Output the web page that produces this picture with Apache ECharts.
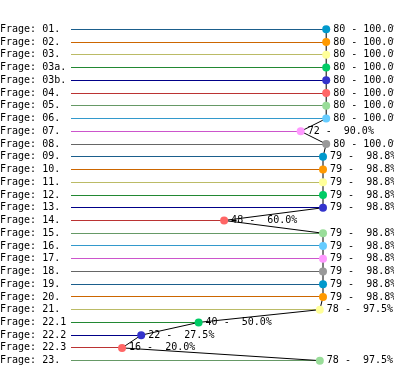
<!DOCTYPE html>
<html><head><meta charset="utf-8">
<script src="https://cdn.jsdelivr.net/npm/echarts@6/dist/echarts.min.js"></script>
<style>html,body{margin:0;padding:0;background:#fff}#c{width:394px;height:373px}</style>
</head><body><div id="c"></div>
<script>
const categories = ['Frage: 01.','Frage: 02.','Frage: 03.','Frage: 03a.','Frage: 03b.','Frage: 04.','Frage: 05.','Frage: 06.','Frage: 07.','Frage: 08.','Frage: 09.','Frage: 10.','Frage: 11.','Frage: 12.','Frage: 13.','Frage: 14.','Frage: 15.','Frage: 16.','Frage: 17.','Frage: 18.','Frage: 19.','Frage: 20.','Frage: 21.','Frage: 22.1','Frage: 22.2','Frage: 22.3','Frage: 23.'];
const counts = [80,80,80,80,80,80,80,80,72,80,79,79,79,79,79,48,79,79,79,79,79,79,78,40,22,16,78];
const percents = ['100.0','100.0','100.0','100.0','100.0','100.0','100.0','100.0','90.0','100.0','98.8','98.8','98.8','98.8','98.8','60.0','98.8','98.8','98.8','98.8','98.8','98.8','97.5','50.0','27.5','20.0','97.5'];
const lineColors = ['#1b5e8c','#cc6600','#bbbb66','#228833','#000088','#bb3333','#669966','#3399cc','#cc55cc','#666666'];
const dotColors = ['#0099cc','#ff9900','#ffff99','#00cc66','#3333cc','#ff6666','#99dd99','#66ccff','#ff99ff','#999999'];

const FONT = 'DejaVu Sans Mono';
const pad = (s, n) => { s = String(s); while (s.length < n) s = ' ' + s; return s; };

const chart = echarts.init(document.getElementById('c'), null, {renderer: 'canvas'});
chart.setOption({
  animation: false,
  grid: {left: 71, right: 4, top: 23, bottom: 6, containLabel: false, outerBoundsMode: 'none'},
  xAxis: {type: 'value', min: 0, max: 100, show: false},
  yAxis: {
    type: 'category', data: categories, inverse: true,
    axisLine: {show: false}, axisTick: {show: false}, splitLine: {show: false},
    axisLabel: {interval: 0, align: 'left', margin: 71, fontFamily: FONT, fontSize: 10, color: '#000'}
  },
  series: [
    {
      type: 'custom', silent: true,
      data: counts.map((v, i) => [v, i]),
      renderItem: (params, api) => {
        const i = api.value(1);
        const a = api.coord([0, i]);
        const b = api.coord([api.value(0), i]);
        const y = Math.round(a[1] - 0.5) + 0.5;
        return {
          type: 'line',
          shape: {x1: a[0], y1: y, x2: b[0], y2: y},
          style: {stroke: lineColors[i % 10], lineWidth: 1}
        };
      }
    },
    {
      type: 'line', symbol: 'circle', symbolSize: 8, z: 5,
      lineStyle: {color: '#000', width: 1},
      data: counts.map((v, i) => ({value: v, itemStyle: {color: dotColors[i % 10], borderWidth: 0}})),
      label: {
        show: true, position: 'right', distance: 3, color: '#000',
        fontFamily: FONT, fontSize: 10,
        formatter: p => pad(counts[p.dataIndex], 2) + ' - ' + pad(percents[p.dataIndex], 5) + '%'
      }
    }
  ]
});
</script></body></html>
